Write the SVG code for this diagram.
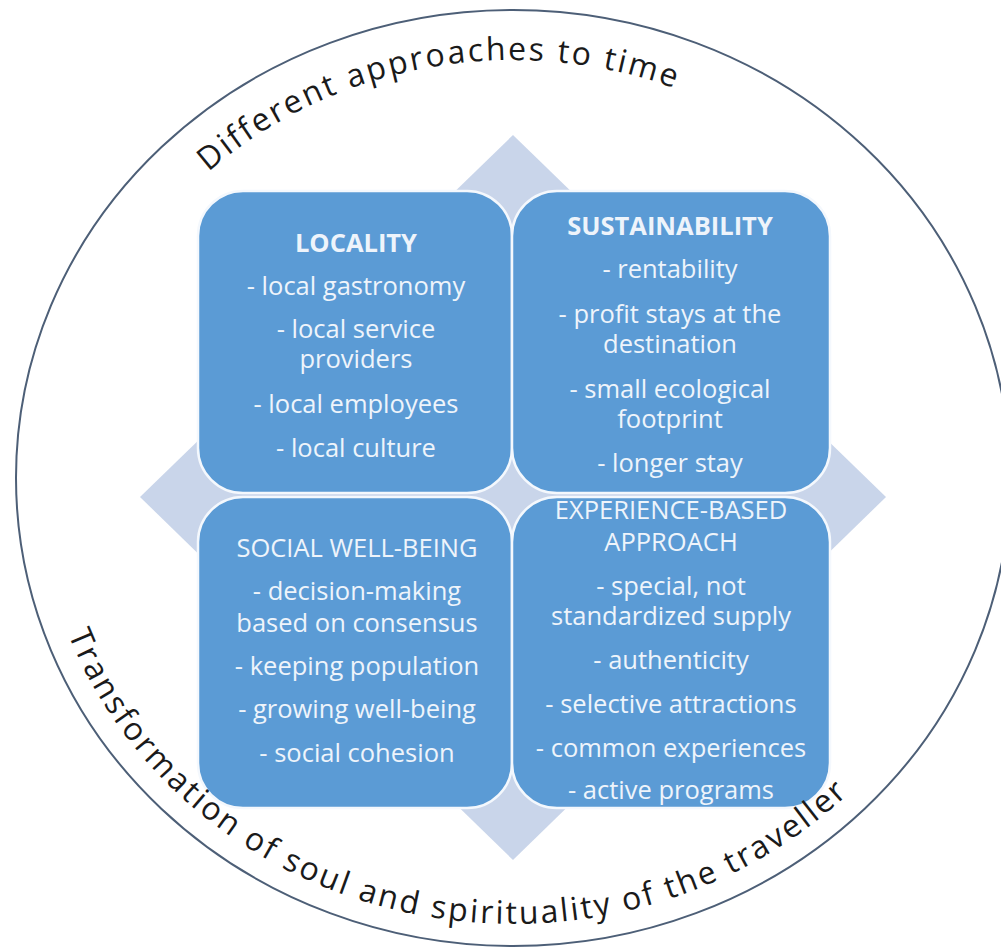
<svg xmlns="http://www.w3.org/2000/svg" width="1001" height="949" viewBox="0 0 1001 949">
  <style>
    .box { fill: #5b9bd5; stroke: #f4f8fd; stroke-width: 2.5; }
    .t { font-family: "Open Sans", "Noto Sans", sans-serif; font-size: 25.5px; fill: #eef4fb; text-anchor: middle; }
    .h { font-weight: bold; }
    .arc { font-family: "Open Sans", "Noto Sans", sans-serif; font-size: 32px; fill: #1a1a1a; letter-spacing: 2.4px; }
  </style>
  <defs>
    <!-- baselines for the curved captions -->
    <path id="topArc" d="M 66,478 A 447,418 0 0 1 960,478"/>
    <path id="bottomArc" d="M 38,478 A 475,446 0 0 0 988,478"/>
  </defs>

  <rect x="0" y="0" width="1001" height="949" fill="#ffffff"/>

  <!-- outer ring -->
  <g id="ring">
    <ellipse cx="513" cy="478" rx="497" ry="468" fill="none" stroke="#4d5f77" stroke-width="2"/>
  </g>

  <!-- background diamond behind the matrix -->
  <g id="diamond">
    <polygon points="513,135 886,497 513,860 140,497" fill="#c9d5ea"/>
  </g>

  <g id="connectors"></g>

  <g id="locality">
    <rect class="box" x="198" y="191" width="314" height="302" rx="45" ry="45"/>
    <text class="t h" x="356" y="252">LOCALITY</text>
    <text class="t" x="356" y="295">- local gastronomy</text>
    <text class="t" x="356" y="338">- local service</text>
    <text class="t" x="356" y="368">providers</text>
    <text class="t" x="356" y="413">- local employees</text>
    <text class="t" x="356" y="457">- local culture</text>
  </g>

  <g id="sustainability">
    <rect class="box" x="512" y="191" width="318" height="302" rx="45" ry="45"/>
    <text class="t h" x="670" y="235">SUSTAINABILITY</text>
    <text class="t" x="670" y="278">- rentability</text>
    <text class="t" x="670" y="323">- profit stays at the</text>
    <text class="t" x="670" y="353">destination</text>
    <text class="t" x="670" y="398">- small ecological</text>
    <text class="t" x="670" y="428">footprint</text>
    <text class="t" x="670" y="472">- longer stay</text>
  </g>

  <g id="social-well-being">
    <rect class="box" x="198" y="497" width="314" height="311" rx="45" ry="45"/>
    <text class="t" x="357" y="557">SOCIAL WELL-BEING</text>
    <text class="t" x="357" y="600">- decision-making</text>
    <text class="t" x="357" y="632">based on consensus</text>
    <text class="t" x="357" y="675">- keeping population</text>
    <text class="t" x="357" y="718">- growing well-being</text>
    <text class="t" x="357" y="762">- social cohesion</text>
  </g>

  <g id="experience-based-approach">
    <rect class="box" x="512" y="497" width="318" height="311" rx="45" ry="45"/>
    <text class="t" x="671" y="519">EXPERIENCE-BASED</text>
    <text class="t" x="671" y="551">APPROACH</text>
    <text class="t" x="671" y="595">- special, not</text>
    <text class="t" x="671" y="625">standardized supply</text>
    <text class="t" x="671" y="669">- authenticity</text>
    <text class="t" x="671" y="713">- selective attractions</text>
    <text class="t" x="671" y="757">- common experiences</text>
    <text class="t" x="671" y="799">- active programs</text>
  </g>

  <g id="caption-top">
    <text class="arc"><textPath href="#topArc" startOffset="348">Different approaches to time</textPath></text>
  </g>

  <g id="caption-bottom">
    <text class="arc"><textPath href="#bottomArc" startOffset="160">Transformation of soul and spirituality of the traveller</textPath></text>
  </g>
</svg>
